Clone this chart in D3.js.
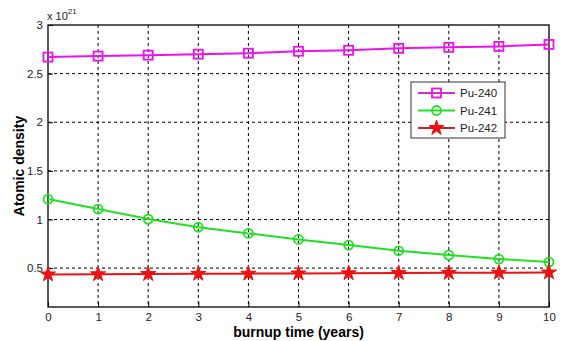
<!DOCTYPE html>
<html><head><meta charset="utf-8">
<script src="https://cdn.jsdelivr.net/npm/d3@7/dist/d3.min.js"></script>
<style>body{margin:0;background:#fff}svg{display:block;font-family:Arial,"Liberation Sans",sans-serif}</style>
</head><body><svg id="c" width="575" height="341"></svg>
<script>
const years = [0,1,2,3,4,5,6,7,8,9,10];
const pu240 = [2.67,2.68,2.69,2.70,2.71,2.73,2.74,2.76,2.77,2.78,2.80];
const pu241 = [1.21,1.107,1.004,0.92,0.857,0.795,0.737,0.678,0.634,0.593,0.562];
const pu242 = [0.435,0.437,0.439,0.441,0.443,0.445,0.447,0.449,0.451,0.453,0.455];
const xTicks = [0,1,2,3,4,5,6,7,8,9,10];
const yTicks = [0.5,1,1.5,2,2.5,3];
const seriesNames = ["Pu-240","Pu-241","Pu-242"];
const seriesColors = ["#ee11ee","#22e022","#ee1111"];
const legendLineColors = ["#cc33cc","#22e022","#cc2222"];
const markerTypes = ["square","circle","star"];

const svg = d3.select("#c");
const L=48,R=549,T=25,B=307;
const x = d3.scaleLinear().domain([0,10]).range([L,R]);
const y = d3.scaleLinear().domain([0.1,3]).range([B,T]);

// grid
const g = svg.append("g");
g.selectAll(".vg").data(xTicks.slice(1,-1)).enter().append("line")
 .attr("x1",d=>x(d)).attr("x2",d=>x(d)).attr("y1",T).attr("y2",B)
 .attr("stroke","#000").attr("stroke-width",1).attr("stroke-dasharray","3,3");
g.selectAll(".hg").data(yTicks.slice(0,-1)).enter().append("line")
 .attr("x1",L).attr("x2",R).attr("y1",d=>y(d)).attr("y2",d=>y(d))
 .attr("stroke","#000").attr("stroke-width",1).attr("stroke-dasharray","3,3");

// axes
const xa = svg.append("g").attr("transform",`translate(0,${B})`)
 .call(d3.axisBottom(x).tickValues(xTicks).tickSize(-5).tickPadding(6).tickFormat(d3.format("d")));
const ya = svg.append("g").attr("transform",`translate(${L},0)`)
 .call(d3.axisLeft(y).tickValues(yTicks).tickSize(-5).tickPadding(5).tickFormat(d=>String(d)));
[xa,ya].forEach(a=>{a.select(".domain").remove();a.selectAll("text").attr("font-size",11.5).attr("fill","#222").attr("font-family","Arial,'Liberation Sans',sans-serif");a.selectAll("line").attr("stroke","#000");});
svg.append("rect").attr("x",L).attr("y",T).attr("width",R-L).attr("height",B-T)
 .attr("fill","none").attr("stroke","#000").attr("stroke-width",1.3);

const data = [pu240,pu241,pu242];
const line = d3.line().x((d,i)=>x(years[i])).y(d=>y(d));
function marker(sel,type,color){
  if(type==="square") sel.append("rect").attr("x",-4.5).attr("y",-4.5).attr("width",9).attr("height",9)
    .attr("fill","none").attr("stroke",color).attr("stroke-width",1.8);
  else if(type==="circle") sel.append("circle").attr("r",4.5).attr("fill","none").attr("stroke",color).attr("stroke-width",1.8);
  else sel.append("path").attr("d",d3.symbol(d3.symbolStar,70)()).attr("fill",color).attr("stroke",color).attr("stroke-width",1);
}
data.forEach((s,k)=>{
  svg.append("path").datum(s).attr("d",line).attr("fill","none").attr("stroke",seriesColors[k]).attr("stroke-width",2);
  s.forEach((v,i)=>{
    const m = svg.append("g").attr("transform",`translate(${x(years[i])},${y(v)})`);
    marker(m,markerTypes[k],seriesColors[k]);
  });
});

// legend
const lg = svg.append("g");
lg.append("rect").attr("x",411).attr("y",82).attr("width",94).attr("height",56).attr("fill","#fff").attr("stroke","#333").attr("stroke-width",1);
seriesNames.forEach((n,k)=>{
  const yy = 93 + k*17.5;
  lg.append("line").attr("x1",418).attr("x2",455).attr("y1",yy).attr("y2",yy).attr("stroke",legendLineColors[k]).attr("stroke-width",2);
  const m = lg.append("g").attr("transform",`translate(436.5,${yy})`);
  marker(m,markerTypes[k],seriesColors[k]);
  lg.append("text").attr("x",460).attr("y",yy+4).attr("font-size",11.5).attr("fill","#222").text(n);
});

// exponent
const ex = svg.append("text").attr("x",47).attr("y",20).attr("font-size",11).attr("fill","#222");
ex.append("tspan").text("x 10");
ex.append("tspan").attr("dy",-6).attr("font-size",8).text("21");

svg.append("text").attr("x",(L+R)/2).attr("y",337).attr("text-anchor","middle").attr("font-size",14).attr("font-weight","bold").text("burnup time (years)");
svg.append("text").attr("transform",`translate(24,${(T+B)/2}) rotate(-90)`).attr("text-anchor","middle").attr("font-size",14).attr("font-weight","bold").text("Atomic density");
</script></body></html>
